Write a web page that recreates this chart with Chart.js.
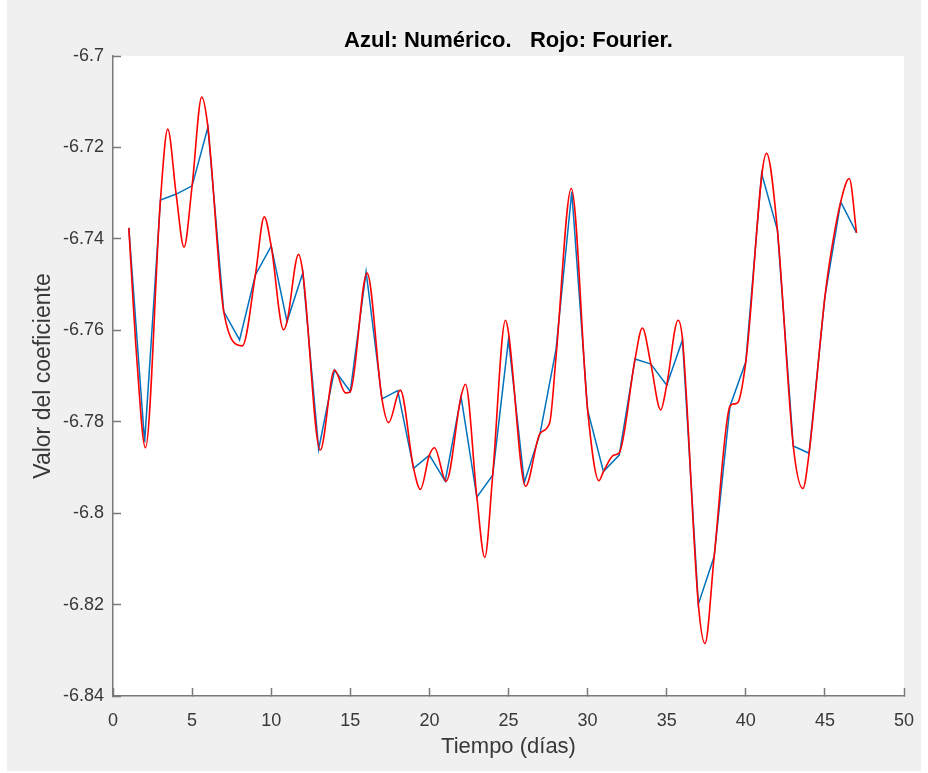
<!DOCTYPE html>
<html>
<head>
<meta charset="utf-8">
<script src="https://cdn.jsdelivr.net/npm/chart.js@4.4.1/dist/chart.umd.min.js"></script>
<style>
  html, body { margin: 0; padding: 0; background: #ffffff; }
  #wrap { width: 928px; height: 773px; }
</style>
</head>
<body>
<div id="wrap"><canvas id="coefChart" width="928" height="773"></canvas></div>
<script>
// Azul: solucion numerica, un valor por dia
const days = [1, 2, 3, 4, 5, 6, 7, 8, 9, 10, 11, 12, 13, 14, 15, 16, 17, 18, 19, 20, 21, 22, 23, 24,
    25, 26, 27, 28, 29, 30, 31, 32, 33, 34, 35, 36, 37, 38, 39, 40, 41, 42, 43, 44, 45, 46, 47];
const numerico = [-6.7376, -6.7845, -6.7315, -6.7302, -6.7284, -6.7156, -6.7559, -6.7621, -6.7479, -6.7416,
    -6.7581, -6.7474, -6.7860, -6.7687, -6.7734, -6.7472, -6.7750, -6.7732, -6.7902, -6.7873,
    -6.7930, -6.7745, -6.7965, -6.7917, -6.7620, -6.7933, -6.7825, -6.7643, -6.7297, -6.7774,
    -6.7909, -6.7873, -6.7663, -6.7674, -6.7720, -6.7621, -6.8199, -6.8095, -6.7766, -6.7669,
    -6.7257, -6.7381, -6.7853, -6.7869, -6.7527, -6.7319, -6.7387];

const fourierX = [1, 1.5, 2.05, 3, 3.46, 4, 4.49, 5, 5.61, 6, 7, 8.18, 9, 9.56, 10, 10.78, 11, 11.73, 12,
    13.1, 14, 14.7, 15, 16.06, 17, 17.42, 18.16, 19, 19.43, 20, 20.32, 21.06, 22, 22.28, 23, 23.5,
    24, 24.81, 25, 26.08, 27, 27.6, 28, 28.97, 30, 30.72, 31, 31.66, 32, 33, 33.46, 34, 34.62, 35,
    35.72, 36, 37, 37.42, 38, 39, 39.26, 39.5, 40, 41.31, 42, 43, 43.61, 44, 45, 45.38, 46, 46.54, 47];
const fourierY = [-6.7376, -6.7660, -6.7857, -6.7315, -6.7160, -6.7305, -6.7418, -6.7284, -6.7090, -6.7156,
    -6.7559, -6.7634, -6.7479, -6.7352, -6.7416, -6.7599, -6.7581, -6.7434, -6.7474,
    -6.7862, -6.7687, -6.7737, -6.7734, -6.7475, -6.7750, -6.7802, -6.7731, -6.7902, -6.7948, -6.7873,
    -6.7857, -6.7930, -6.7745, -6.7718, -6.7965, -6.8097,
    -6.7917, -6.7578, -6.7605, -6.7941, -6.7825, -6.7803, -6.7660, -6.7290, -6.7774, -6.7929, -6.7909,
    -6.7873, -6.7868, -6.7663, -6.7595, -6.7674, -6.7774, -6.7720,
    -6.7578, -6.7621, -6.8199, -6.8285, -6.8095, -6.7766, -6.7761, -6.7758, -6.7669, -6.7213, -6.7381,
    -6.7853, -6.7946, -6.7869, -6.7527, -6.7432, -6.7319, -6.7268, -6.7387];

const xTicks = [0, 5, 10, 15, 20, 25, 30, 35, 40, 45, 50];
const yTicks = [-6.84, -6.82, -6.8, -6.78, -6.76, -6.74, -6.72, -6.7];
const yTickLabels = ['-6.84', '-6.82', '-6.8', '-6.78', '-6.76', '-6.74', '-6.72', '-6.7'];

const FONT = "'Liberation Sans', Arial, Helvetica, sans-serif";
const AXIS_GRAY = '#7a7a7a';
const TEXT_GRAY = '#383838';

// fondo gris de la figura y area blanca de los ejes
const figureBackground = {
    id: 'figureBackground',
    beforeDraw(chart) {
        const c = chart.ctx;
        const a = chart.chartArea;
        c.save();
        c.fillStyle = '#f0f0f0';
        c.fillRect(7, 0, 914, 771);
        c.fillStyle = '#ffffff';
        c.fillRect(a.left, a.top, a.right - a.left, a.bottom - a.top);
        c.restore();
    }
};

const ctx = document.getElementById('coefChart').getContext('2d');
const chart = new Chart(ctx, {
    type: 'line',
    data: {
        datasets: [{
            label: 'Numérico',
            data: days.map((d, i) => ({ x: d, y: numerico[i] })),
            borderColor: '#0072BD',
            borderWidth: 1.5,
            pointRadius: 0,
            tension: 0,
            order: 1
        }, {
            label: 'Fourier',
            data: fourierX.map((d, i) => ({ x: d, y: fourierY[i] })),
            borderColor: '#FF0000',
            borderWidth: 1.6,
            pointRadius: 0,
            cubicInterpolationMode: 'monotone',
            order: 0
        }]
    },
    options: {
        responsive: false,
        animation: false,
        layout: { padding: { left: 0, right: 24, top: 0, bottom: 0 } },
        plugins: {
            legend: { display: false },
            tooltip: { enabled: false },
            title: {
                display: true,
                text: 'Azul: Numérico.   Rojo: Fourier.',
                fullSize: false,
                color: '#000000',
                font: { family: FONT, size: 22, weight: 'bold' },
                padding: { top: 28, bottom: 1.6 }
            }
        },
        scales: {
            x: {
                type: 'linear',
                min: 0,
                max: 50,
                afterBuildTicks: (scale) => { scale.ticks = xTicks.map(v => ({ value: v })); },
                afterFit: (scale) => {
                    scale.height = 77;
                    scale.paddingLeft = 0;
                    scale.paddingRight = 0;
                },
                ticks: {
                    autoSkip: false,
                    maxRotation: 0,
                    padding: 22,
                    color: TEXT_GRAY,
                    font: { family: FONT, size: 18 },
                    callback: (v) => String(v)
                },
                grid: {
                    drawOnChartArea: false,
                    drawTicks: true,
                    tickLength: -8,
                    tickColor: AXIS_GRAY,
                    tickWidth: 1.5
                },
                border: { display: true, color: AXIS_GRAY, width: 1.5 },
                title: {
                    display: true,
                    text: 'Tiempo (días)',
                    color: TEXT_GRAY,
                    font: { family: FONT, size: 22 },
                    padding: { top: 0, bottom: 13 }
                }
            },
            y: {
                min: -6.84,
                max: -6.7,
                afterBuildTicks: (scale) => { scale.ticks = yTicks.map(v => ({ value: v })); },
                afterFit: (scale) => { scale.width = 113; },
                ticks: {
                    autoSkip: false,
                    padding: 17,
                    color: TEXT_GRAY,
                    font: { family: FONT, size: 18 },
                    callback: (v) => yTickLabels[yTicks.findIndex(t => Math.abs(t - v) < 1e-6)]
                },
                grid: {
                    drawOnChartArea: false,
                    drawTicks: true,
                    tickLength: -8,
                    tickColor: AXIS_GRAY,
                    tickWidth: 1.5
                },
                border: { display: true, color: AXIS_GRAY, width: 1.5 },
                title: {
                    display: true,
                    text: 'Valor del coeficiente',
                    color: TEXT_GRAY,
                    font: { family: FONT, size: 23 },
                    padding: { top: 30, bottom: 0 }
                }
            }
        }
    },
    plugins: [figureBackground]
});
</script>
</body>
</html>
